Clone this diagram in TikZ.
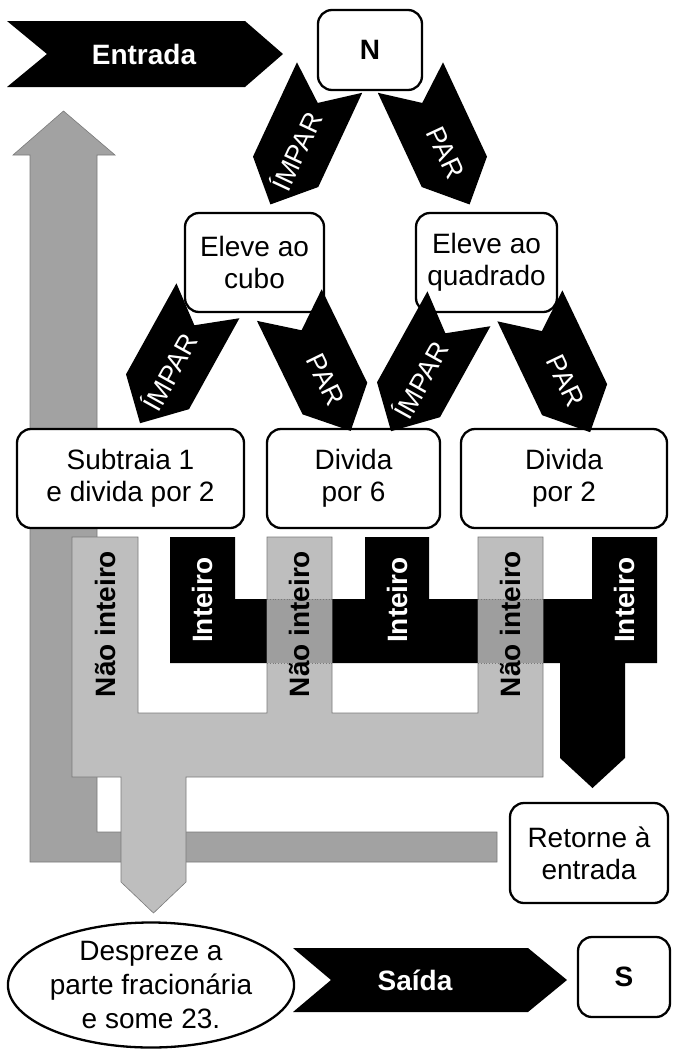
\documentclass[tikz,border=0pt]{standalone}
\usepackage{fontspec}
\setmainfont{Liberation Sans}
\usetikzlibrary{shapes.geometric}
\definecolor{lgray}{HTML}{BEBEBE}
\definecolor{dgray}{HTML}{A2A2A2}
\definecolor{ogray}{HTML}{9E9E9E}
\definecolor{edgegray}{HTML}{7A7A7A}
% #1 name, #2 centre, #3 direction, #4 text angle, #5 text shift toward tip, #6 text
\newcommand\mychev[6]{%
  \begin{scope}[shift={#2}, rotate=#3]
    \fill[black] (-70,-36) -- (34,-36) -- (70,0) -- (34,36) -- (-70,36) -- (-42,0) -- cycle;
    \node[chevtxt, rotate=#4] (#1) at (#5,0) {#6};
  \end{scope}
}
\begin{document}
\begin{tikzpicture}[x=1pt,y=-1pt,
  box/.style={draw, line width=2.3pt, rounded corners=14pt, align=center,
    font=\fontsize{28}{32}\selectfont, inner sep=0pt, fill=white},
  chevtxt/.style={text=white, font=\fontsize{27}{32}\selectfont, inner sep=0pt},
  flowtxt/.style={font=\fontsize{28}{32}\selectfont\bfseries, inner sep=0pt},
  dotline/.style={dotted, edgegray, line width=0.8pt}]
\useasboundingbox[fill=white] (0,0) rectangle (675,1050);

% return-to-input arrow (dark gray)
\filldraw[fill=dgray, draw=edgegray, line width=0.6pt]
  (30,862) -- (30,155) -- (13,155) -- (63.5,111) -- (115,155) -- (97,155)
  -- (97,832) -- (497,832) -- (497,862) -- cycle;

% "Inteiro" flow (black)
\fill[black] (170,537) -- (235,537) -- (235,599) -- (365,599) -- (365,537)
  -- (429,537) -- (429,599) -- (592,599) -- (592,537) -- (657,537) -- (657,663)
  -- (625,663) -- (625,758) -- (592.5,788) -- (560,758) -- (560,663) -- (170,663) -- cycle;

% "Nao inteiro" flow (light gray)
\filldraw[fill=lgray, draw=edgegray, line width=0.6pt]
  (72,537) -- (138,537) -- (138,713) -- (267,713) -- (267,537) -- (332,537)
  -- (332,713) -- (478,713) -- (478,537) -- (543,537) -- (543,777) -- (186,777)
  -- (186,882) -- (153.5,913) -- (121,882) -- (121,777) -- (72,777) -- cycle;

% overlaps
\fill[ogray] (267,599) rectangle (332,663);
\fill[ogray] (478,599) rectangle (543,663);
\draw[dotline] (267,599) -- (332,599) (267,663) -- (332,663);
\draw[dotline] (478,599) -- (543,599) (478,663) -- (543,663);

% flow labels
\node[flowtxt, rotate=90] (ni1) at (105,624) {Não inteiro};
\node[flowtxt, rotate=90] (ni2) at (299.5,624) {Não inteiro};
\node[flowtxt, rotate=90] (ni3) at (510.5,624) {Não inteiro};
\node[flowtxt, rotate=90, text=white] (in1) at (202.5,600) {Inteiro};
\node[flowtxt, rotate=90, text=white] (in2) at (397,600) {Inteiro};
\node[flowtxt, rotate=90, text=white] (in3) at (624.5,600) {Inteiro};

% entry / exit chevrons
\fill[black] (7,21) -- (245,21) -- (283,54) -- (245,87) -- (7,87) -- (47,54) -- cycle;
\node[flowtxt, text=white] (entrada) at (144,54) {Entrada};
\fill[black] (293,948) -- (528,948) -- (567,980) -- (528,1012) -- (293,1012) -- (331,980) -- cycle;
\node[flowtxt, text=white] (saida) at (415,980) {Saída};

% boxes
\node[box, minimum width=104, minimum height=80, font=\fontsize{28}{32}\selectfont\bfseries] (N) at (370,50) {N};
\node[box, minimum width=139, minimum height=99] (cubo) at (254.5,262.5) {Eleve ao\\cubo};
\node[box, minimum width=141, minimum height=99] (quad) at (486.5,262.5) {Eleve ao\\quadrado};
\node[box, minimum width=227, minimum height=99] (sub) at (130.5,478.5) {Subtraia 1\\e divida por 2};
\node[box, minimum width=173, minimum height=99] (d6) at (353.5,478.5) {Divida\\por 6};
\node[box, minimum width=206, minimum height=99] (d2) at (564,478.5) {Divida\\por 2};
\node[box, minimum width=158, minimum height=100] (ret) at (589,853) {Retorne à\\entrada};
\node[box, minimum width=92, minimum height=80, font=\fontsize{28}{32}\selectfont\bfseries] (S) at (624,977) {S};
\node[draw, ellipse, line width=2.3pt, fill=white, minimum width=258, minimum height=125,
  inner sep=0pt, align=center, font=\fontsize{28}{34}\selectfont] (desp) at (151,985)
  {Despreze a\\parte fracionária\\e some 23.};

% parity arrows
\mychev{a1}{(300,141)}{245}{65}{11}{ÍMPAR}
\mychev{a2}{(440,141)}{-65}{-65}{13}{PAR}
\mychev{a3}{(174,362)}{241}{61}{11}{ÍMPAR}
\mychev{a4}{(320,368)}{-64}{-64}{13}{PAR}
\mychev{a5}{(425,370)}{241}{61}{11}{ÍMPAR}
\mychev{a6}{(560,369)}{-64.5}{-64.5}{13}{PAR}
\end{tikzpicture}
\end{document}
